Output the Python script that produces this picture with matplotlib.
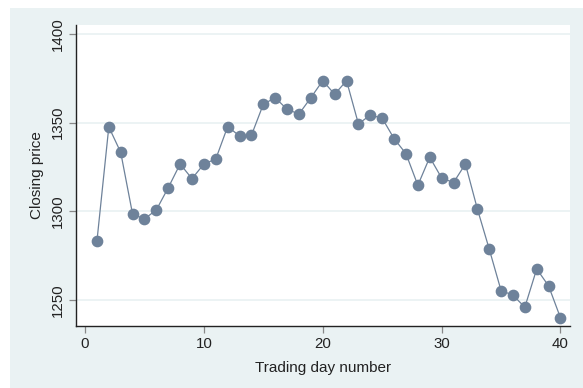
import matplotlib
matplotlib.use("Agg")
import matplotlib.pyplot as plt
from matplotlib.patches import Rectangle

plt.rcParams['font.family'] = ['Liberation Sans', 'DejaVu Sans']

# Closing price by trading day
day = list(range(1, 41))
close = [1283.1, 1347.6, 1333.3, 1298.4, 1295.7, 1300.8, 1313.3, 1326.7, 1318.4, 1326.7,
         1329.5, 1347.8, 1342.5, 1342.9, 1360.4, 1364.1, 1357.5, 1354.9, 1364.1, 1373.7,
         1366.0, 1373.7, 1349.3, 1354.3, 1352.5, 1341.0, 1332.5, 1314.7, 1330.5, 1318.8,
         1316.2, 1326.7, 1301.5, 1278.8, 1255.3, 1252.7, 1245.9, 1267.5, 1257.9, 1239.9]
xticks = [0, 10, 20, 30, 40]
yticks = [1250, 1300, 1350, 1400]

bg = '#eaf2f3'
dot = '#6e829a'

fig = plt.figure(figsize=(5.83, 3.88), dpi=100)
# graph region (light bluish gray), offset from the top-left edge
fig.patches.append(Rectangle((10 / 583, 0), 1, 1 - 8 / 388, transform=fig.transFigure,
                             facecolor=bg, edgecolor='none', zorder=-5))

ax = fig.add_axes([76 / 583, 1 - 326 / 388, (570 - 76) / 583, (326 - 25) / 388])
ax.set_facecolor('white')

ax.plot(day, close, color=dot, linewidth=0.9, marker='o', markersize=7.4,
        markerfacecolor=dot, markeredgecolor=dot, zorder=3)

ax.set_xlim(-0.76, 40.8)
ax.set_ylim(1235.3, 1405.1)
ax.set_xticks(xticks)
ax.set_yticks(yticks)
ax.set_yticklabels([str(v) for v in yticks], rotation=90, va='center')
ax.grid(axis='y', color=bg, linewidth=1.3, zorder=0)
ax.set_axisbelow(True)

for s in ['top', 'right']:
    ax.spines[s].set_visible(False)
for s in ['left', 'bottom']:
    ax.spines[s].set_color('#222222')
    ax.spines[s].set_linewidth(1.0)

ax.tick_params(axis='both', direction='out', length=5, width=0.9, color='#888888',
               labelsize=10.8, labelcolor='#222222', pad=3)

ax.set_xlabel('Trading day number', fontsize=11, color='#222222', labelpad=7)
ax.set_ylabel('Closing price', fontsize=11, color='#222222', labelpad=5)

fig.savefig('out.png', dpi=100)
